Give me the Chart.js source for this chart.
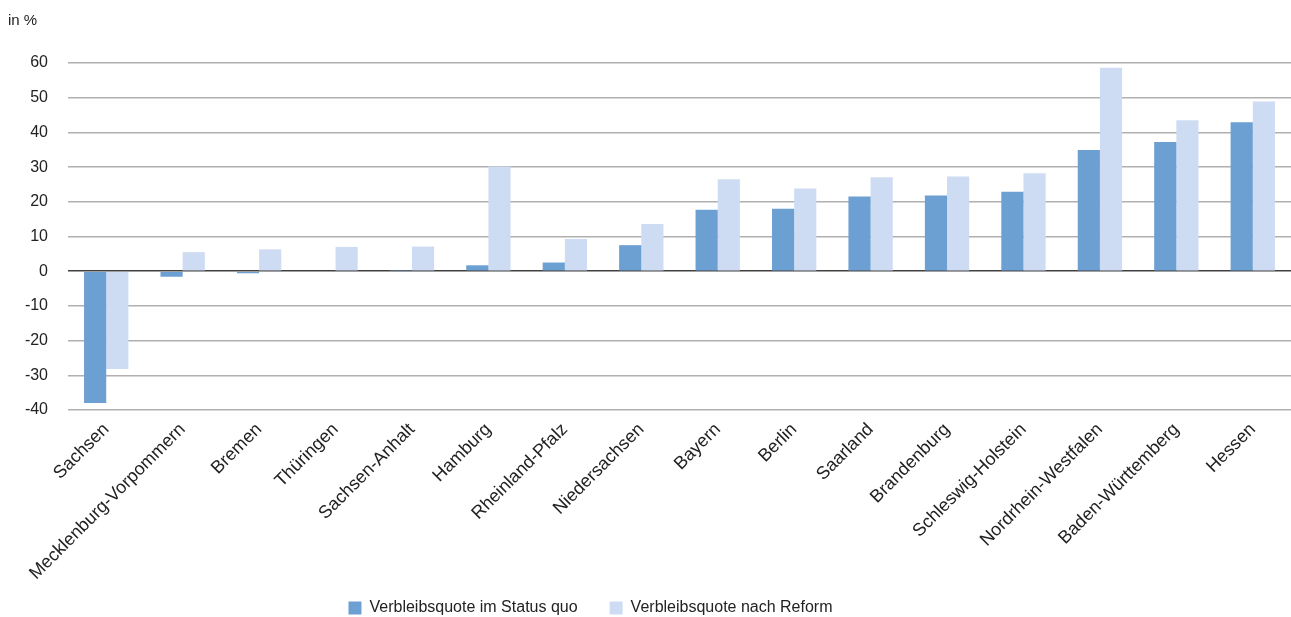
<!DOCTYPE html>
<html>
<head>
<meta charset="utf-8">
<script src="https://cdn.jsdelivr.net/npm/chart.js@4/dist/chart.umd.min.js"></script>
<style>
  html, body { margin: 0; padding: 0; background: #fff; }
  #wrap { width: 1291px; height: 617px; position: relative; }
</style>
</head>
<body>
<div id="wrap"><canvas id="barChart"></canvas></div>
<script>
// Bundesländer, sorted by Verbleibsquote im Status quo
const states = [
  "Sachsen", "Mecklenburg-Vorpommern", "Bremen", "Thüringen", "Sachsen-Anhalt",
  "Hamburg", "Rheinland-Pfalz", "Niedersachsen", "Bayern", "Berlin", "Saarland",
  "Brandenburg", "Schleswig-Holstein", "Nordrhein-Westfalen", "Baden-Württemberg", "Hessen"
];
const statusQuo = [-38.0, -1.6, -0.6, -0.2, 0.1, 1.7, 2.5, 7.5, 17.7, 18.0, 21.5, 21.8, 22.9, 34.9, 37.2, 42.9];
const nachReform = [-28.2, 5.5, 6.3, 7.0, 7.1, 30.2, 9.3, 13.6, 26.5, 23.8, 27.1, 27.3, 28.2, 58.6, 43.5, 48.9];
const seriesNames = ["Verbleibsquote im Status quo", "Verbleibsquote nach Reform"];
const yMin = -40;
const yMax = 60;
const yStep = 10;

const font = "'Liberation Sans', Arial, Helvetica, sans-serif";

// "in %" label above the y axis, plus a couple of layout tweaks
const unitLabel = {
  id: "unitLabel",
  afterLayout(chart) {
    // let the long rotated labels run past the x axis box instead of clipping
    chart.scales.x.bottom = chart.height;
    // the legend sits a bit left of centre in the original
    chart.legend.left -= 59;
    chart.legend.right -= 59;
  },
  afterDraw(chart) {
    const ctx = chart.ctx;
    ctx.save();
    ctx.font = "15px " + font;
    ctx.fillStyle = "#222";
    ctx.textBaseline = "middle";
    ctx.fillText("in %", 8, 21);
    ctx.restore();
  },
};

let currentChart = null;

document.addEventListener("DOMContentLoaded", () => {
  const container = document.getElementById("barChart");

  if (currentChart) {
    currentChart.destroy();
  }

  currentChart = new Chart(container, {
    type: "bar",
    data: {
      labels: states,
      datasets: [
        {
          label: seriesNames[0],
          data: statusQuo,
          backgroundColor: "#6c9fd2",
          borderWidth: 0,
        },
        {
          label: seriesNames[1],
          data: nachReform,
          backgroundColor: "#cedcf3",
          borderWidth: 0,
        },
      ],
    },
    options: {
      responsive: true,
      maintainAspectRatio: false,
      animation: false,
      layout: {
        padding: { top: 63, left: 8, right: 0, bottom: -9 },
      },
      datasets: {
        bar: {
          categoryPercentage: 0.58,
          barPercentage: 1.0,
        },
      },
      scales: {
        x: {
          grid: { display: false, drawTicks: false },
          border: { display: false },
          ticks: {
            font: { family: font, size: 18 },
            color: "#222",
            minRotation: 45,
            maxRotation: 45,
            padding: 9,
            autoSkip: false,
          },
          afterFit: (scale) => {
            scale.height = 158;
          },
        },
        y: {
          min: yMin,
          max: yMax,
          grid: {
            drawTicks: false,
            color: (c) => (c.tick && c.tick.value === 0 ? "#404040" : "#b0b0b0"),
            lineWidth: 1.5,
          },
          border: { display: false },
          ticks: {
            stepSize: yStep,
            font: { family: font, size: 16 },
            color: "#222",
            padding: 20,
          },
          afterFit: (scale) => {
            scale.width = 60;
          },
        },
      },
      plugins: {
        legend: {
          position: "bottom",
          labels: {
            font: { family: font, size: 16 },
            color: "#222",
            boxWidth: 13,
            boxHeight: 13,
            padding: 32,
          },
        },
        tooltip: { enabled: false },
      },
    },
    plugins: [unitLabel],
  });
});
</script>
</body>
</html>
